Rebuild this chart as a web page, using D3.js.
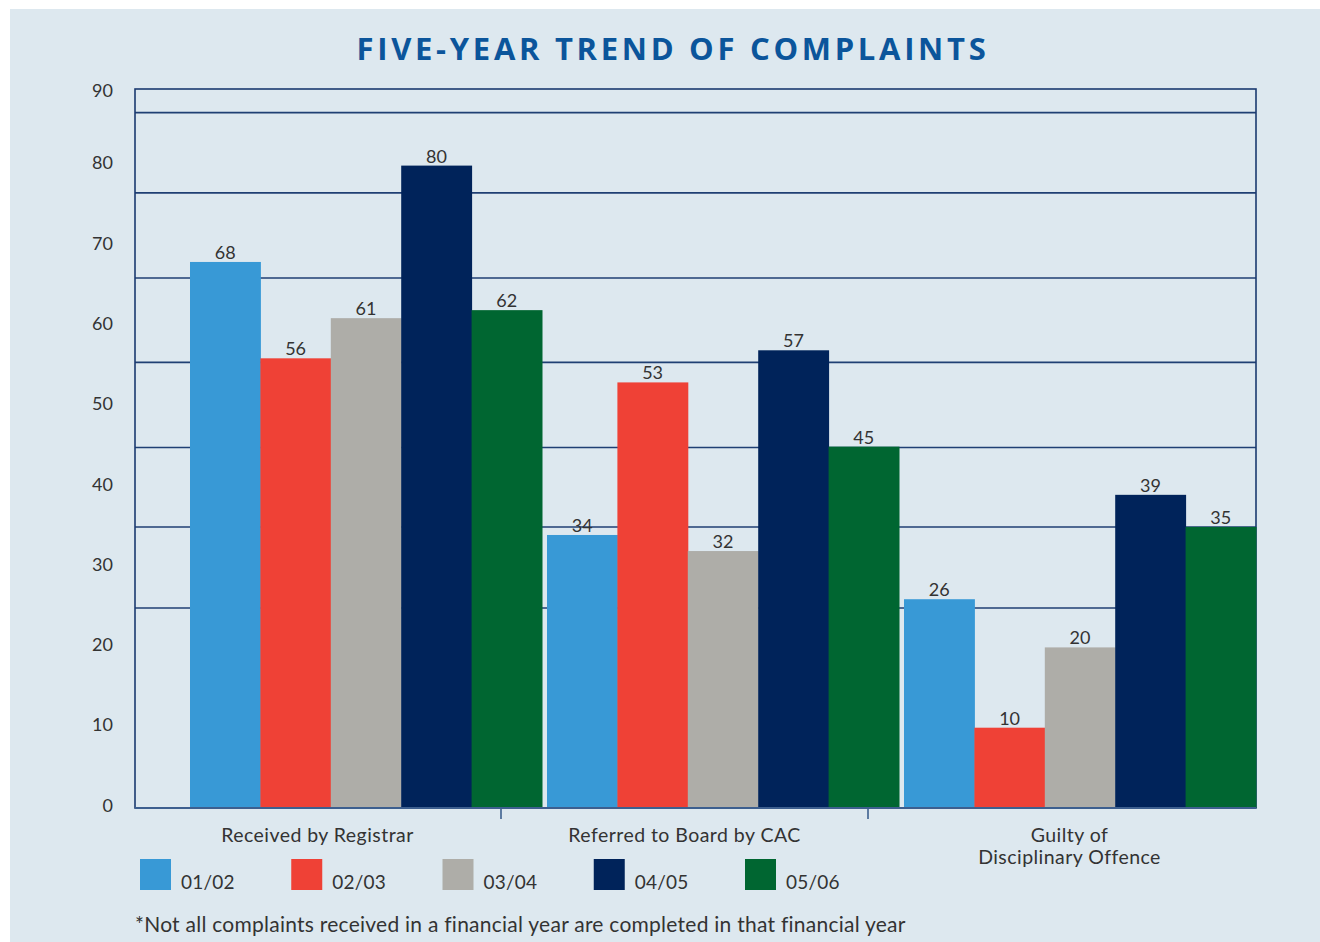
<!DOCTYPE html>
<html>
<head>
<meta charset="utf-8">
<script src="https://cdn.jsdelivr.net/npm/d3@7"></script>
<style>
  body { margin: 0; background: #ffffff; }
  svg { display: block; }
  .title { font-family: "Open Sans", sans-serif; font-weight: 700; font-size: 31px; fill: #0b559b; letter-spacing: 3.7px; }
  .tick-label, .val, .cat, .legend-label, .note { font-family: Lato, "Open Sans", sans-serif; fill: #333333; }
  .tick-label { font-size: 18px; }
  .val { font-size: 18px; }
  .cat { font-size: 19.5px; letter-spacing: 0.45px; }
  .legend-label { font-size: 19px; letter-spacing: 0.2px; }
  .note { font-size: 21px; letter-spacing: 0.25px; }
</style>
</head>
<body>
<div id="chart"></div>
<script>
// ---- data ----
const categories = ["Received by Registrar", "Referred to Board by CAC", "Guilty of Disciplinary Offence"];
const categoryLines = [["Received by Registrar"], ["Referred to Board by CAC"], ["Guilty of", "Disciplinary Offence"]];
const years = ["01/02", "02/03", "03/04", "04/05", "05/06"];
const values = {
  "01/02": [68, 34, 26],
  "02/03": [56, 53, 10],
  "03/04": [61, 32, 20],
  "04/05": [80, 57, 39],
  "05/06": [62, 45, 35]
};
const yTicks = [0, 10, 20, 30, 40, 50, 60, 70, 80, 90];
const gridValues = [24.9, 35, 44.9, 55.5, 66, 76.6, 86.6];
const colors = ["#3899d6", "#ef4136", "#aeada8", "#00235a", "#006631"];

// ---- layout ----
const width = 1320, height = 942;
const plot = { left: 135, right: 1256, top: 89, bottom: 808 };

const svg = d3.select("#chart").append("svg")
  .attr("width", width)
  .attr("height", height);

// panel background
svg.append("rect")
  .attr("x", 10).attr("y", 9)
  .attr("width", width - 10).attr("height", height - 9)
  .attr("fill", "#dde8ef");

svg.append("text")
  .attr("class", "title")
  .attr("x", 673).attr("y", 60)
  .attr("text-anchor", "middle")
  .text("FIVE-YEAR TREND OF COMPLAINTS");

const y = d3.scaleLinear().domain([0, 90]).range([plot.bottom, plot.bottom - 90 * 8.03]);

// bars sit in their own band, labels/ticks in another
const x0 = d3.scaleBand().domain(categories).range([190, plot.right]).paddingInner(0.014);
const x1 = d3.scaleBand().domain(years).range([0, x0.bandwidth()]);
const xLab = d3.scaleBand().domain(categories).range([134, 1235]);

const color = d3.scaleOrdinal().domain(years).range(colors);

// gridlines
svg.append("g")
  .selectAll("line")
  .data(gridValues)
  .join("line")
  .attr("x1", plot.left).attr("x2", plot.right)
  .attr("y1", d => y(d)).attr("y2", d => y(d))
  .attr("stroke", "#1f3f73")
  .attr("stroke-width", 1.6);

// frame
svg.append("rect")
  .attr("x", plot.left).attr("y", plot.top)
  .attr("width", plot.right - plot.left).attr("height", plot.bottom - plot.top)
  .attr("fill", "none")
  .attr("stroke", "#1b3a70")
  .attr("stroke-width", 1.6);

// bars
const groups = svg.append("g")
  .selectAll("g")
  .data(categories)
  .join("g")
  .attr("transform", d => `translate(${x0(d)},0)`);

groups.selectAll("rect")
  .data((d, i) => years.map(yr => ({ yr, v: values[yr][i] })))
  .join("rect")
  .attr("x", d => x1(d.yr))
  .attr("y", d => y(d.v))
  .attr("width", x1.bandwidth() + 0.5)
  .attr("height", d => y(0) - y(d.v))
  .attr("fill", d => color(d.yr));

groups.selectAll("text")
  .data((d, i) => years.map(yr => ({ yr, v: values[yr][i] })))
  .join("text")
  .attr("class", "val")
  .attr("x", d => x1(d.yr) + x1.bandwidth() / 2)
  .attr("y", d => y(d.v) - 3)
  .attr("text-anchor", "middle")
  .text(d => d.v);

// bottom axis line
svg.append("line")
  .attr("x1", plot.left).attr("x2", plot.right)
  .attr("y1", plot.bottom).attr("y2", plot.bottom)
  .attr("stroke", "#3d5f8f").attr("stroke-width", 2);

// y axis labels (top one pinned just under the frame)
svg.append("g")
  .selectAll("text")
  .data(yTicks)
  .join("text")
  .attr("class", "tick-label")
  .attr("x", plot.left - 22)
  .attr("y", d => Math.max(y(d) - 2, plot.top + 2))
  .attr("dy", "0.32em")
  .attr("text-anchor", "end")
  .text(d => d);

// category separators under the axis
svg.append("g")
  .selectAll("line")
  .data(categories.slice(1))
  .join("line")
  .attr("x1", d => xLab(d)).attr("x2", d => xLab(d))
  .attr("y1", plot.bottom).attr("y2", plot.bottom + 11)
  .attr("stroke", "#3d5f8f").attr("stroke-width", 1.6);

// category labels, one text per line
categories.forEach((c, i) => {
  const cx = xLab(c) + xLab.bandwidth() / 2 + (i === 2 ? 18 : 0);
  svg.append("g")
    .selectAll("text")
    .data(categoryLines[i])
    .join("text")
    .attr("class", "cat")
    .attr("text-anchor", "middle")
    .attr("x", cx)
    .attr("y", (d, j) => 842 + j * 22)
    .text(d => d);
});

// legend
const legendX = d3.scalePoint().domain(years).range([140, 745]);
const legend = svg.append("g")
  .selectAll("g")
  .data(years)
  .join("g")
  .attr("transform", d => `translate(${legendX(d)},859)`);
legend.append("rect")
  .attr("width", 31).attr("height", 31)
  .attr("fill", d => color(d));
legend.append("text")
  .attr("class", "legend-label")
  .attr("x", 41).attr("y", 30)
  .text(d => d);

svg.append("text")
  .attr("class", "note")
  .attr("x", 135).attr("y", 932)
  .text("*Not all complaints received in a financial year are completed in that financial year");
</script>
</body>
</html>
